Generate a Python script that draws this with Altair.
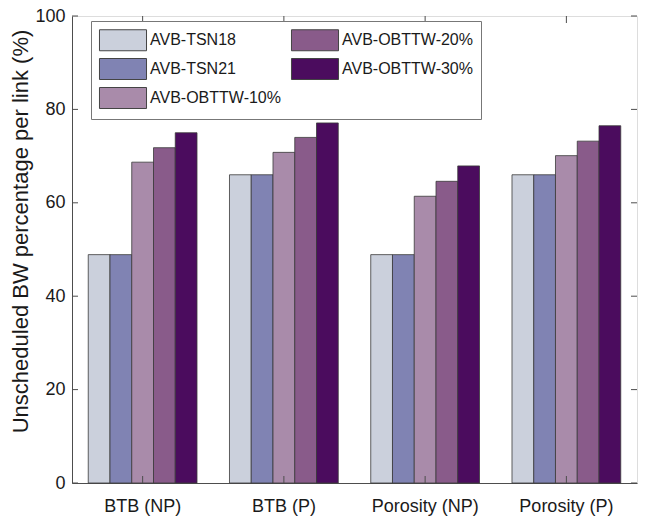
import altair as alt
import pandas as pd

categories = ["BTB (NP)", "BTB (P)", "Porosity (NP)", "Porosity (P)"]
series = ["AVB-TSN18", "AVB-TSN21", "AVB-OBTTW-10%", "AVB-OBTTW-20%", "AVB-OBTTW-30%"]
tsn18 = [48.9, 66.0, 48.9, 66.0]
tsn21 = [48.9, 66.0, 48.9, 66.0]
obttw10 = [68.7, 70.8, 61.4, 70.1]
obttw20 = [71.8, 74.0, 64.6, 73.2]
obttw30 = [75.0, 77.1, 67.9, 76.5]
colors = ["#CBD0DC", "#8083B3", "#A98BAA", "#895B8A", "#4B0C5E"]
y_ticks = [0, 20, 40, 60, 80, 100]

all_vals = [tsn18, tsn21, obttw10, obttw20, obttw30]
rows = []
for s, vals in zip(series, all_vals):
    for c, v in zip(categories, vals):
        rows.append({"cat": c, "series": s, "value": v})
df = pd.DataFrame(rows)

FONT = "Liberation Sans"
W, H = 565, 467

xscale = alt.Scale(domain=categories, paddingInner=0.23, paddingOuter=0.115)

bars = alt.Chart(df).mark_bar(stroke="#3a3a3a", strokeWidth=0.8).encode(
    x=alt.X("cat:N", scale=xscale, sort=categories,
            axis=alt.Axis(title=None, labelAngle=0, ticks=False, labelFontSize=18,
                          labelFont=FONT, labelColor="#1a1a1a", labelPadding=14,
                          domainColor="#4d4d4d")),
    xOffset=alt.XOffset("series:N", sort=series, scale=alt.Scale(paddingInner=0, paddingOuter=0)),
    y=alt.Y("value:Q", scale=alt.Scale(domain=[0, 100], nice=False),
            axis=alt.Axis(values=y_ticks, ticks=False, grid=False, labelFontSize=18,
                          labelFont=FONT, labelColor="#1a1a1a", labelPadding=7,
                          title="Unscheduled BW percentage per link (%)", titleFontSize=22,
                          titleFont=FONT, titleFontWeight="normal", titleColor="#1a1a1a",
                          titlePadding=2, titleY=215, domainColor="#4d4d4d")),
    color=alt.Color("series:N",
                    scale=alt.Scale(domain=series, range=colors),
                    legend=alt.Legend(orient="none", legendX=19, legendY=5, columns=2,
                                      title=None,
                                      symbolType="M-2.24,-1L2.24,-1L2.24,1L-2.24,1Z",
                                      symbolSize=441, symbolStrokeColor="#444",
                                      symbolStrokeWidth=1, symbolOpacity=1,
                                      symbolOffset=13,
                                      labelFont=FONT, labelFontSize=16, labelColor="#1a1a1a",
                                      labelOffset=16, padding=8, strokeColor="#777",
                                      fillColor="white", rowPadding=3, columnPadding=8,
                                      labelLimit=300)),
)

ydf = pd.DataFrame({"v": y_ticks})
ytick_l = alt.Chart(ydf).mark_rule(color="#4d4d4d").encode(
    y="v:Q", x=alt.value(0), x2=alt.value(6))
ytick_r = alt.Chart(ydf).mark_rule(color="#4d4d4d").encode(
    y="v:Q", x=alt.value(W - 6), x2=alt.value(W))

xdf = pd.DataFrame({"cat": categories})
xtick_b = alt.Chart(xdf).mark_rule(color="#4d4d4d").encode(
    x=alt.X("cat:N", sort=categories), y=alt.value(H), y2=alt.value(H - 7))
xtick_t = alt.Chart(xdf).mark_rule(color="#4d4d4d").encode(
    x=alt.X("cat:N", sort=categories), y=alt.value(0), y2=alt.value(7))

chart = alt.layer(bars, ytick_l, ytick_r, xtick_b, xtick_t).properties(
    width=W, height=H,
    autosize=alt.AutoSizeParams(type="none"),
    padding={"left": 64, "top": 8, "right": 1, "bottom": 36},
).configure_view(stroke="#555", strokeWidth=1).configure(background="white")

chart.save("out.html", embed_options={"renderer": "svg", "actions": False})
